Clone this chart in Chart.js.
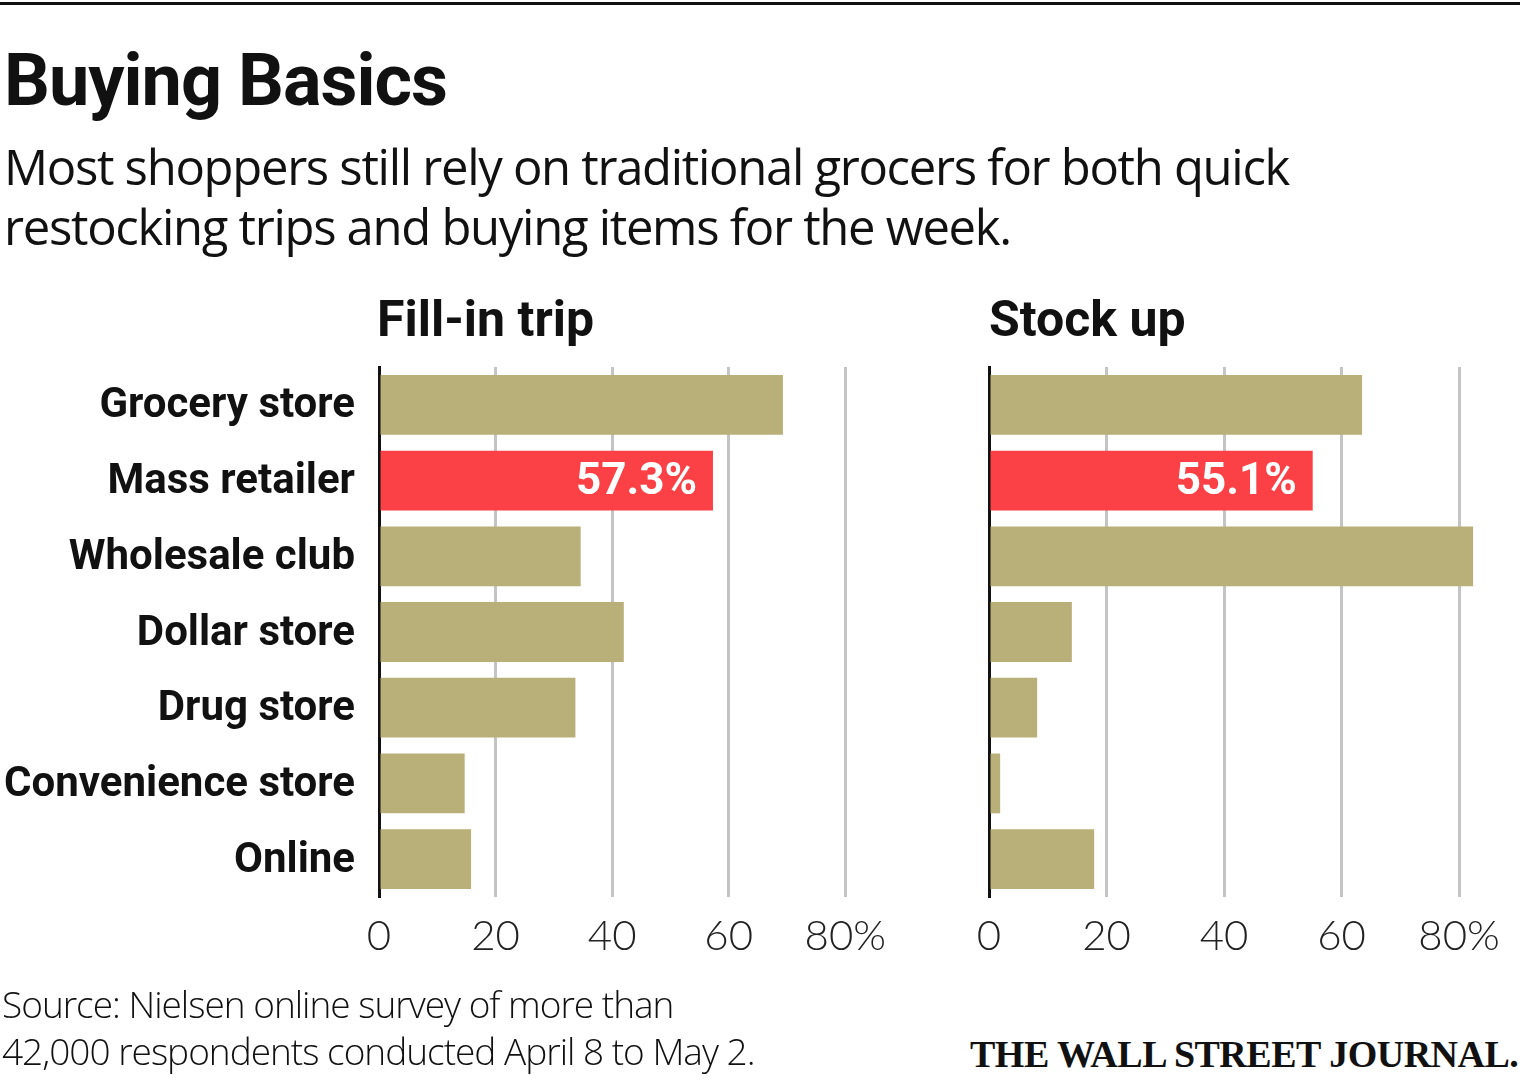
<!DOCTYPE html>
<html>
<head>
<meta charset="utf-8">
<script src="https://cdn.jsdelivr.net/npm/chart.js@4/dist/chart.umd.min.js"></script>
<style>
  body { margin: 0; width: 1520px; height: 1080px; background: #fff; position: relative; overflow: hidden;
         font-family: "Liberation Sans Narrow", Roboto, sans-serif; color: #111; }
  .rule { position: absolute; left: 0; top: 2px; width: 1520px; height: 3px; background: #111; }
  .t { position: absolute; white-space: nowrap; }
  canvas { position: absolute; }
</style>
</head>
<body>
<div class="rule"></div>
<div class="t" style="left:4px;top:38px;font-size:72px;font-weight:bold;font-family:Roboto,sans-serif;letter-spacing:-1px">Buying Basics</div>
<div class="t" style="left:4px;top:136px;font-size:49px;line-height:60px;font-family:'Open Sans',sans-serif;letter-spacing:-1.3px">Most shoppers still rely on traditional grocers for both quick<br>restocking trips and buying items for the week.</div>
<div class="t" style="left:377px;top:290px;font-size:50px;font-weight:bold">Fill-in trip</div>
<div class="t" style="left:989px;top:290px;font-size:50px;font-weight:bold">Stock up</div>
<div style="position:absolute;left:0;top:360px;width:900px;height:620px"><canvas id="left"></canvas></div>
<div style="position:absolute;left:960px;top:360px;width:560px;height:620px"><canvas id="right"></canvas></div>
<div class="t" style="left:2px;top:980px;font-size:37px;line-height:47px;font-family:'Open Sans',sans-serif;font-weight:300;letter-spacing:-1px">Source: Nielsen online survey of more than<br>42,000 respondents conducted April 8 to May 2.</div>
<div class="t" style="left:970px;top:1032px;font-size:38px;font-weight:bold;font-family:'Liberation Serif',serif;letter-spacing:-0.5px">THE WALL STREET JOURNAL.</div>
<script>
const categories = ['Grocery store', 'Mass retailer', 'Wholesale club', 'Dollar store', 'Drug store', 'Convenience store', 'Online'];
const fillInValues = [69.3, 57.3, 34.6, 42.0, 33.7, 14.7, 15.8];
const stockUpValues = [63.5, 55.1, 82.4, 14.1, 8.2, 1.9, 17.9];
const xTicks = [0, 20, 40, 60, 80];
const highlightIndex = 1;

const tan = '#b9af79';
const red = '#fb4146';

// value on the highlighted bar + category names (left chart only)
const labelsPlugin = {
  id: 'labelsPlugin',
  afterDatasetsDraw(chart, args, opts) {
    const meta = chart.getDatasetMeta(0);
    const ctx = chart.ctx;
    ctx.save();
    ctx.textBaseline = 'middle';
    const bar = meta.data[highlightIndex];
    const v = chart.data.datasets[0].data[highlightIndex];
    ctx.fillStyle = '#fff';
    ctx.font = 'bold 44px "Liberation Sans Narrow", Roboto, sans-serif';
    ctx.textAlign = 'right';
    ctx.fillText(v.toFixed(1) + '%', bar.x - 16, bar.y + 2);
    if (opts.names) {
      ctx.fillStyle = '#111';
      ctx.font = 'bold 42px "Liberation Sans Narrow", Roboto, sans-serif';
      meta.data.forEach((b, i) => {
        ctx.fillText(chart.data.labels[i], chart.chartArea.left - 24, b.y + 2);
      });
    }
    ctx.restore();
  }
};

function makeChart(id, values, showNames, yWidth, padRight) {
  return new Chart(document.getElementById(id), {
    type: 'bar',
    data: {
      labels: categories,
      datasets: [{
        data: values,
        backgroundColor: values.map((_, i) => i === highlightIndex ? red : tan),
        barPercentage: 0.79,
        categoryPercentage: 1,
        clip: false
      }]
    },
    options: {
      indexAxis: 'y',
      responsive: true,
      maintainAspectRatio: false,
      animation: false,
      layout: { padding: { top: 7, right: padRight, left: 0, bottom: 0 } },
      plugins: { legend: { display: false }, tooltip: { enabled: false }, labelsPlugin: { names: showNames } },
      scales: {
        x: {
          min: 0, max: 80,
          afterBuildTicks: s => { s.ticks = xTicks.map(v => ({ value: v })); },
          afterFit: s => { s.height = 83; },
          grid: { color: ctx => ctx.tick && ctx.tick.value === 0 ? 'rgba(0,0,0,0)' : '#c4c4c4', lineWidth: 3, drawTicks: false },
          border: { display: false },
          ticks: {
            color: '#222', padding: 14,
            font: { size: 42, family: 'Lato', weight: 300 },
            callback: v => v === 80 ? '80%' : v
          }
        },
        y: {
          afterFit: s => { s.width = yWidth; },
          grid: { display: false },
          border: { color: '#111', width: 3 },
          ticks: { display: false }
        }
      }
    },
    plugins: [labelsPlugin]
  });
}

makeChart('left', fillInValues, true, 379, 54);
makeChart('right', stockUpValues, false, 29, 61);
</script>
</body>
</html>
